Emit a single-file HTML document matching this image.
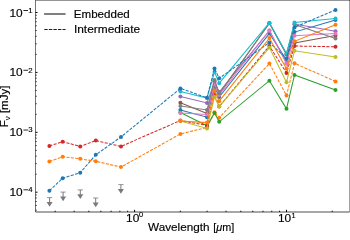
<!DOCTYPE html>
<html><head><meta charset="utf-8"><style>
html,body{margin:0;padding:0;background:#fff;width:350px;height:234px;overflow:hidden}
svg{display:block;will-change:transform}
</style></head><body>
<svg width="350" height="234" viewBox="0 0 350 234">
<rect width="350" height="234" fill="#fff"/>
<svg x="0" y="0" width="350" height="234"><clipPath id="ax"><rect x="35.50" y="0.50" width="314.00" height="211.10"/></clipPath>
<g clip-path="url(#ax)"><polyline points="180.40,110.00 207.00,117.20 214.50,86.50 219.20,97.00 269.40,33.50 286.50,60.00 294.50,32.10 335.50,20.00" fill="none" stroke="#1f77b4" stroke-width="1.05"/><circle cx="180.40" cy="110.00" r="2.00" fill="#1f77b4"/><circle cx="207.00" cy="117.20" r="2.00" fill="#1f77b4"/><circle cx="214.50" cy="86.50" r="2.00" fill="#1f77b4"/><circle cx="219.20" cy="97.00" r="2.00" fill="#1f77b4"/><circle cx="269.40" cy="33.50" r="2.00" fill="#1f77b4"/><circle cx="286.50" cy="60.00" r="2.00" fill="#1f77b4"/><circle cx="294.50" cy="32.10" r="2.00" fill="#1f77b4"/><circle cx="335.50" cy="20.00" r="2.00" fill="#1f77b4"/><polyline points="49.40,161.50 62.70,156.80 80.20,158.80 95.80,161.30 121.00,167.10 180.40,133.90 207.00,127.50 214.50,112.30 219.20,117.70 269.40,63.50 286.50,95.50 294.50,63.30 335.50,81.40" fill="none" stroke="#ff7f0e" stroke-width="1.05" stroke-dasharray="3.1 1.35"/><circle cx="49.40" cy="161.50" r="2.00" fill="#ff7f0e"/><circle cx="62.70" cy="156.80" r="2.00" fill="#ff7f0e"/><circle cx="80.20" cy="158.80" r="2.00" fill="#ff7f0e"/><circle cx="95.80" cy="161.30" r="2.00" fill="#ff7f0e"/><circle cx="121.00" cy="167.10" r="2.00" fill="#ff7f0e"/><circle cx="180.40" cy="133.90" r="2.00" fill="#ff7f0e"/><circle cx="207.00" cy="127.50" r="2.00" fill="#ff7f0e"/><circle cx="214.50" cy="112.30" r="2.00" fill="#ff7f0e"/><circle cx="219.20" cy="117.70" r="2.00" fill="#ff7f0e"/><circle cx="269.40" cy="63.50" r="2.00" fill="#ff7f0e"/><circle cx="286.50" cy="95.50" r="2.00" fill="#ff7f0e"/><circle cx="294.50" cy="63.30" r="2.00" fill="#ff7f0e"/><circle cx="335.50" cy="81.40" r="2.00" fill="#ff7f0e"/><polyline points="180.40,112.50 207.00,125.80 214.50,112.90 219.20,121.80 269.40,80.70 286.50,108.80 294.50,74.90 335.50,90.10" fill="none" stroke="#2ca02c" stroke-width="1.05"/><circle cx="180.40" cy="112.50" r="2.00" fill="#2ca02c"/><circle cx="207.00" cy="125.80" r="2.00" fill="#2ca02c"/><circle cx="214.50" cy="112.90" r="2.00" fill="#2ca02c"/><circle cx="219.20" cy="121.80" r="2.00" fill="#2ca02c"/><circle cx="269.40" cy="80.70" r="2.00" fill="#2ca02c"/><circle cx="286.50" cy="108.80" r="2.00" fill="#2ca02c"/><circle cx="294.50" cy="74.90" r="2.00" fill="#2ca02c"/><circle cx="335.50" cy="90.10" r="2.00" fill="#2ca02c"/><polyline points="49.40,145.90 62.70,141.70 80.20,146.40 95.80,140.60 121.00,146.40 180.40,120.50 207.00,125.40 214.50,94.00 219.20,106.60 269.40,46.00 286.50,72.90 294.50,46.00 335.50,46.80" fill="none" stroke="#d62728" stroke-width="1.05" stroke-dasharray="3.1 1.35"/><circle cx="49.40" cy="145.90" r="2.00" fill="#d62728"/><circle cx="62.70" cy="141.70" r="2.00" fill="#d62728"/><circle cx="80.20" cy="146.40" r="2.00" fill="#d62728"/><circle cx="95.80" cy="140.60" r="2.00" fill="#d62728"/><circle cx="121.00" cy="146.40" r="2.00" fill="#d62728"/><circle cx="180.40" cy="120.50" r="2.00" fill="#d62728"/><circle cx="207.00" cy="125.40" r="2.00" fill="#d62728"/><circle cx="214.50" cy="94.00" r="2.00" fill="#d62728"/><circle cx="219.20" cy="106.60" r="2.00" fill="#d62728"/><circle cx="269.40" cy="46.00" r="2.00" fill="#d62728"/><circle cx="286.50" cy="72.90" r="2.00" fill="#d62728"/><circle cx="294.50" cy="46.00" r="2.00" fill="#d62728"/><circle cx="335.50" cy="46.80" r="2.00" fill="#d62728"/><polyline points="180.40,96.60 207.00,102.90 214.50,82.00 219.20,92.00 269.40,30.60 286.50,63.00 294.50,24.00 335.50,31.20" fill="none" stroke="#9467bd" stroke-width="1.05"/><circle cx="180.40" cy="96.60" r="2.00" fill="#9467bd"/><circle cx="207.00" cy="102.90" r="2.00" fill="#9467bd"/><circle cx="214.50" cy="82.00" r="2.00" fill="#9467bd"/><circle cx="219.20" cy="92.00" r="2.00" fill="#9467bd"/><circle cx="269.40" cy="30.60" r="2.00" fill="#9467bd"/><circle cx="286.50" cy="63.00" r="2.00" fill="#9467bd"/><circle cx="294.50" cy="24.00" r="2.00" fill="#9467bd"/><circle cx="335.50" cy="31.20" r="2.00" fill="#9467bd"/><polyline points="180.40,102.70 207.00,113.50 214.50,81.00 219.20,94.00 269.40,23.20 286.50,54.50 294.50,43.00 335.50,35.50" fill="none" stroke="#8c564b" stroke-width="1.05"/><circle cx="180.40" cy="102.70" r="2.00" fill="#8c564b"/><circle cx="207.00" cy="113.50" r="2.00" fill="#8c564b"/><circle cx="214.50" cy="81.00" r="2.00" fill="#8c564b"/><circle cx="219.20" cy="94.00" r="2.00" fill="#8c564b"/><circle cx="269.40" cy="23.20" r="2.00" fill="#8c564b"/><circle cx="286.50" cy="54.50" r="2.00" fill="#8c564b"/><circle cx="294.50" cy="43.00" r="2.00" fill="#8c564b"/><circle cx="335.50" cy="35.50" r="2.00" fill="#8c564b"/><polyline points="180.40,113.00 207.00,114.50 214.50,84.00 219.20,95.00 269.40,30.40 286.50,63.70 294.50,35.80 335.50,33.50" fill="none" stroke="#e377c2" stroke-width="1.05"/><circle cx="180.40" cy="113.00" r="2.00" fill="#e377c2"/><circle cx="207.00" cy="114.50" r="2.00" fill="#e377c2"/><circle cx="214.50" cy="84.00" r="2.00" fill="#e377c2"/><circle cx="219.20" cy="95.00" r="2.00" fill="#e377c2"/><circle cx="269.40" cy="30.40" r="2.00" fill="#e377c2"/><circle cx="286.50" cy="63.70" r="2.00" fill="#e377c2"/><circle cx="294.50" cy="35.80" r="2.00" fill="#e377c2"/><circle cx="335.50" cy="33.50" r="2.00" fill="#e377c2"/><polyline points="180.40,106.10 207.00,110.00 214.50,80.00 219.20,93.50 269.40,23.00 286.50,54.00 294.50,24.50 335.50,38.60" fill="none" stroke="#7f7f7f" stroke-width="1.05"/><circle cx="180.40" cy="106.10" r="2.00" fill="#7f7f7f"/><circle cx="207.00" cy="110.00" r="2.00" fill="#7f7f7f"/><circle cx="214.50" cy="80.00" r="2.00" fill="#7f7f7f"/><circle cx="219.20" cy="93.50" r="2.00" fill="#7f7f7f"/><circle cx="269.40" cy="23.00" r="2.00" fill="#7f7f7f"/><circle cx="286.50" cy="54.00" r="2.00" fill="#7f7f7f"/><circle cx="294.50" cy="24.50" r="2.00" fill="#7f7f7f"/><circle cx="335.50" cy="38.60" r="2.00" fill="#7f7f7f"/><polyline points="180.40,120.90 207.00,128.40 214.50,97.00 219.20,106.60 269.40,47.60 286.50,82.20 294.50,50.80 335.50,56.90" fill="none" stroke="#bcbd22" stroke-width="1.05"/><circle cx="180.40" cy="120.90" r="2.00" fill="#bcbd22"/><circle cx="207.00" cy="128.40" r="2.00" fill="#bcbd22"/><circle cx="214.50" cy="97.00" r="2.00" fill="#bcbd22"/><circle cx="219.20" cy="106.60" r="2.00" fill="#bcbd22"/><circle cx="269.40" cy="47.60" r="2.00" fill="#bcbd22"/><circle cx="286.50" cy="82.20" r="2.00" fill="#bcbd22"/><circle cx="294.50" cy="50.80" r="2.00" fill="#bcbd22"/><circle cx="335.50" cy="56.90" r="2.00" fill="#bcbd22"/><polyline points="180.40,91.60 207.00,98.00 214.50,72.00 219.20,83.20 269.40,22.70 286.50,53.40 294.50,22.50 335.50,18.50" fill="none" stroke="#17becf" stroke-width="1.05"/><circle cx="180.40" cy="91.60" r="2.00" fill="#17becf"/><circle cx="207.00" cy="98.00" r="2.00" fill="#17becf"/><circle cx="214.50" cy="72.00" r="2.00" fill="#17becf"/><circle cx="219.20" cy="83.20" r="2.00" fill="#17becf"/><circle cx="269.40" cy="22.70" r="2.00" fill="#17becf"/><circle cx="286.50" cy="53.40" r="2.00" fill="#17becf"/><circle cx="294.50" cy="22.50" r="2.00" fill="#17becf"/><circle cx="335.50" cy="18.50" r="2.00" fill="#17becf"/><polyline points="49.40,190.70 62.70,178.20 80.20,172.70 95.80,154.80 121.00,136.90 180.40,88.40 207.00,97.70 214.50,68.50 219.20,78.30 269.40,42.50 286.50,58.50 294.50,27.40 335.50,9.90" fill="none" stroke="#1f77b4" stroke-width="1.05" stroke-dasharray="3.1 1.35"/><circle cx="49.40" cy="190.70" r="2.00" fill="#1f77b4"/><circle cx="62.70" cy="178.20" r="2.00" fill="#1f77b4"/><circle cx="80.20" cy="172.70" r="2.00" fill="#1f77b4"/><circle cx="95.80" cy="154.80" r="2.00" fill="#1f77b4"/><circle cx="121.00" cy="136.90" r="2.00" fill="#1f77b4"/><circle cx="180.40" cy="88.40" r="2.00" fill="#1f77b4"/><circle cx="207.00" cy="97.70" r="2.00" fill="#1f77b4"/><circle cx="214.50" cy="68.50" r="2.00" fill="#1f77b4"/><circle cx="219.20" cy="78.30" r="2.00" fill="#1f77b4"/><circle cx="269.40" cy="42.50" r="2.00" fill="#1f77b4"/><circle cx="286.50" cy="58.50" r="2.00" fill="#1f77b4"/><circle cx="294.50" cy="27.40" r="2.00" fill="#1f77b4"/><circle cx="335.50" cy="9.90" r="2.00" fill="#1f77b4"/><polyline points="180.40,120.90 207.00,122.60 214.50,90.50 219.20,101.20 269.40,38.10 286.50,68.80 294.50,41.30 335.50,24.70" fill="none" stroke="#ff7f0e" stroke-width="1.05"/><circle cx="180.40" cy="120.90" r="2.00" fill="#ff7f0e"/><circle cx="207.00" cy="122.60" r="2.00" fill="#ff7f0e"/><circle cx="214.50" cy="90.50" r="2.00" fill="#ff7f0e"/><circle cx="219.20" cy="101.20" r="2.00" fill="#ff7f0e"/><circle cx="269.40" cy="38.10" r="2.00" fill="#ff7f0e"/><circle cx="286.50" cy="68.80" r="2.00" fill="#ff7f0e"/><circle cx="294.50" cy="41.30" r="2.00" fill="#ff7f0e"/><circle cx="335.50" cy="24.70" r="2.00" fill="#ff7f0e"/><g fill="#7a7a7a" stroke="#7a7a7a"><line x1="47.00" y1="197.60" x2="52.20" y2="197.60" stroke-width="0.8"/><line x1="49.60" y1="197.60" x2="49.60" y2="202.60" stroke-width="1.0"/><path d="M46.60 202.00L52.60 202.00L49.60 206.80Z" stroke="none"/></g><g fill="#7a7a7a" stroke="#7a7a7a"><line x1="60.50" y1="192.10" x2="65.70" y2="192.10" stroke-width="0.8"/><line x1="63.10" y1="192.10" x2="63.10" y2="197.10" stroke-width="1.0"/><path d="M60.10 196.50L66.10 196.50L63.10 201.30Z" stroke="none"/></g><g fill="#7a7a7a" stroke="#7a7a7a"><line x1="77.70" y1="189.90" x2="82.90" y2="189.90" stroke-width="0.8"/><line x1="80.30" y1="189.90" x2="80.30" y2="194.90" stroke-width="1.0"/><path d="M77.30 194.30L83.30 194.30L80.30 199.10Z" stroke="none"/></g><g fill="#7a7a7a" stroke="#7a7a7a"><line x1="93.10" y1="198.00" x2="98.30" y2="198.00" stroke-width="0.8"/><line x1="95.70" y1="198.00" x2="95.70" y2="203.00" stroke-width="1.0"/><path d="M92.70 202.40L98.70 202.40L95.70 207.20Z" stroke="none"/></g><g fill="#7a7a7a" stroke="#7a7a7a"><line x1="118.30" y1="184.60" x2="123.50" y2="184.60" stroke-width="0.8"/><line x1="120.90" y1="184.60" x2="120.90" y2="189.60" stroke-width="1.0"/><path d="M117.90 189.00L123.90 189.00L120.90 193.80Z" stroke="none"/></g></g></svg>
<line x1="35.50" y1="212.00" x2="35.50" y2="0.00" stroke="#000" stroke-width="0.55"/><line x1="35.50" y1="0.50" x2="350.00" y2="0.50" stroke="#000" stroke-width="0.42"/><line x1="349.50" y1="0.00" x2="349.50" y2="212.00" stroke="#000" stroke-width="0.38"/><line x1="35.50" y1="212.00" x2="349.50" y2="212.00" stroke="#000" stroke-width="0.7"/><line x1="134.60" y1="212.00" x2="134.60" y2="209.80" stroke="#000" stroke-width="1.00"/><line x1="286.50" y1="212.00" x2="286.50" y2="209.80" stroke="#000" stroke-width="1.00"/><line x1="55.17" y1="212.00" x2="55.17" y2="210.70" stroke="#000" stroke-width="0.90"/><line x1="74.15" y1="212.00" x2="74.15" y2="210.70" stroke="#000" stroke-width="0.90"/><line x1="88.87" y1="212.00" x2="88.87" y2="210.70" stroke="#000" stroke-width="0.90"/><line x1="100.90" y1="212.00" x2="100.90" y2="210.70" stroke="#000" stroke-width="0.90"/><line x1="111.07" y1="212.00" x2="111.07" y2="210.70" stroke="#000" stroke-width="0.90"/><line x1="119.88" y1="212.00" x2="119.88" y2="210.70" stroke="#000" stroke-width="0.90"/><line x1="127.65" y1="212.00" x2="127.65" y2="210.70" stroke="#000" stroke-width="0.90"/><line x1="180.33" y1="212.00" x2="180.33" y2="210.70" stroke="#000" stroke-width="0.90"/><line x1="207.07" y1="212.00" x2="207.07" y2="210.70" stroke="#000" stroke-width="0.90"/><line x1="226.05" y1="212.00" x2="226.05" y2="210.70" stroke="#000" stroke-width="0.90"/><line x1="240.77" y1="212.00" x2="240.77" y2="210.70" stroke="#000" stroke-width="0.90"/><line x1="252.80" y1="212.00" x2="252.80" y2="210.70" stroke="#000" stroke-width="0.90"/><line x1="262.97" y1="212.00" x2="262.97" y2="210.70" stroke="#000" stroke-width="0.90"/><line x1="271.78" y1="212.00" x2="271.78" y2="210.70" stroke="#000" stroke-width="0.90"/><line x1="279.55" y1="212.00" x2="279.55" y2="210.70" stroke="#000" stroke-width="0.90"/><line x1="332.23" y1="212.00" x2="332.23" y2="210.70" stroke="#000" stroke-width="0.90"/><line x1="35.50" y1="12.50" x2="37.50" y2="12.50" stroke="#000" stroke-width="1.00"/><line x1="35.50" y1="72.40" x2="37.50" y2="72.40" stroke="#000" stroke-width="1.00"/><line x1="35.50" y1="132.30" x2="37.50" y2="132.30" stroke="#000" stroke-width="1.00"/><line x1="35.50" y1="192.20" x2="37.50" y2="192.20" stroke="#000" stroke-width="1.00"/><line x1="35.50" y1="210.23" x2="36.70" y2="210.23" stroke="#000" stroke-width="0.85"/><line x1="35.50" y1="205.49" x2="36.70" y2="205.49" stroke="#000" stroke-width="0.85"/><line x1="35.50" y1="201.48" x2="36.70" y2="201.48" stroke="#000" stroke-width="0.85"/><line x1="35.50" y1="198.00" x2="36.70" y2="198.00" stroke="#000" stroke-width="0.85"/><line x1="35.50" y1="194.94" x2="36.70" y2="194.94" stroke="#000" stroke-width="0.85"/><line x1="35.50" y1="174.17" x2="36.70" y2="174.17" stroke="#000" stroke-width="0.85"/><line x1="35.50" y1="163.62" x2="36.70" y2="163.62" stroke="#000" stroke-width="0.85"/><line x1="35.50" y1="156.14" x2="36.70" y2="156.14" stroke="#000" stroke-width="0.85"/><line x1="35.50" y1="150.33" x2="36.70" y2="150.33" stroke="#000" stroke-width="0.85"/><line x1="35.50" y1="145.59" x2="36.70" y2="145.59" stroke="#000" stroke-width="0.85"/><line x1="35.50" y1="141.58" x2="36.70" y2="141.58" stroke="#000" stroke-width="0.85"/><line x1="35.50" y1="138.10" x2="36.70" y2="138.10" stroke="#000" stroke-width="0.85"/><line x1="35.50" y1="135.04" x2="36.70" y2="135.04" stroke="#000" stroke-width="0.85"/><line x1="35.50" y1="114.27" x2="36.70" y2="114.27" stroke="#000" stroke-width="0.85"/><line x1="35.50" y1="103.72" x2="36.70" y2="103.72" stroke="#000" stroke-width="0.85"/><line x1="35.50" y1="96.24" x2="36.70" y2="96.24" stroke="#000" stroke-width="0.85"/><line x1="35.50" y1="90.43" x2="36.70" y2="90.43" stroke="#000" stroke-width="0.85"/><line x1="35.50" y1="85.69" x2="36.70" y2="85.69" stroke="#000" stroke-width="0.85"/><line x1="35.50" y1="81.68" x2="36.70" y2="81.68" stroke="#000" stroke-width="0.85"/><line x1="35.50" y1="78.20" x2="36.70" y2="78.20" stroke="#000" stroke-width="0.85"/><line x1="35.50" y1="75.14" x2="36.70" y2="75.14" stroke="#000" stroke-width="0.85"/><line x1="35.50" y1="54.37" x2="36.70" y2="54.37" stroke="#000" stroke-width="0.85"/><line x1="35.50" y1="43.82" x2="36.70" y2="43.82" stroke="#000" stroke-width="0.85"/><line x1="35.50" y1="36.34" x2="36.70" y2="36.34" stroke="#000" stroke-width="0.85"/><line x1="35.50" y1="30.53" x2="36.70" y2="30.53" stroke="#000" stroke-width="0.85"/><line x1="35.50" y1="25.79" x2="36.70" y2="25.79" stroke="#000" stroke-width="0.85"/><line x1="35.50" y1="21.78" x2="36.70" y2="21.78" stroke="#000" stroke-width="0.85"/><line x1="35.50" y1="18.30" x2="36.70" y2="18.30" stroke="#000" stroke-width="0.85"/><line x1="35.50" y1="15.24" x2="36.70" y2="15.24" stroke="#000" stroke-width="0.85"/><text transform="translate(9.50,16.70) scale(1.100,1)" font-family="'Liberation Sans', sans-serif" stroke="#000" stroke-width="0.15" font-size="10.80" fill="#000">10</text><rect x="23.4" y="10.10" width="4.6" height="0.85" fill="#000"/><text x="32.6" y="12.80" font-family="'Liberation Sans', sans-serif" stroke="#000" stroke-width="0.15" font-size="7.8" text-anchor="end" fill="#000">1</text><text transform="translate(9.50,76.40) scale(1.100,1)" font-family="'Liberation Sans', sans-serif" stroke="#000" stroke-width="0.15" font-size="10.80" fill="#000">10</text><rect x="23.4" y="69.80" width="4.6" height="0.85" fill="#000"/><text x="32.6" y="72.50" font-family="'Liberation Sans', sans-serif" stroke="#000" stroke-width="0.15" font-size="7.8" text-anchor="end" fill="#000">2</text><text transform="translate(9.50,136.20) scale(1.100,1)" font-family="'Liberation Sans', sans-serif" stroke="#000" stroke-width="0.15" font-size="10.80" fill="#000">10</text><rect x="23.4" y="129.60" width="4.6" height="0.85" fill="#000"/><text x="32.6" y="132.30" font-family="'Liberation Sans', sans-serif" stroke="#000" stroke-width="0.15" font-size="7.8" text-anchor="end" fill="#000">3</text><text transform="translate(9.50,196.00) scale(1.100,1)" font-family="'Liberation Sans', sans-serif" stroke="#000" stroke-width="0.15" font-size="10.80" fill="#000">10</text><rect x="23.4" y="189.40" width="4.6" height="0.85" fill="#000"/><text x="32.6" y="192.10" font-family="'Liberation Sans', sans-serif" stroke="#000" stroke-width="0.15" font-size="7.8" text-anchor="end" fill="#000">4</text><text transform="translate(126.10,221.80) scale(1.100,1)" font-family="'Liberation Sans', sans-serif" stroke="#000" stroke-width="0.15" font-size="10.80" fill="#000">10</text><text x="139.00" y="217.30" font-family="'Liberation Sans', sans-serif" stroke="#000" stroke-width="0.15" font-size="7.4" fill="#000">0</text><text transform="translate(278.00,221.80) scale(1.100,1)" font-family="'Liberation Sans', sans-serif" stroke="#000" stroke-width="0.15" font-size="10.80" fill="#000">10</text><text x="291.40" y="217.90" font-family="'Liberation Sans', sans-serif" stroke="#000" stroke-width="0.15" font-size="7.4" fill="#000">1</text><text x="148.0" y="230.6" font-family="'Liberation Sans', sans-serif" stroke="#000" stroke-width="0.15" font-size="10.6" fill="#000" textLength="61.5" lengthAdjust="spacingAndGlyphs">Wavelength</text><text x="213.3" y="230.6" font-family="'Liberation Sans', sans-serif" stroke="#000" stroke-width="0.15" font-size="10.6" fill="#000" textLength="21" lengthAdjust="spacingAndGlyphs">[<tspan font-style="italic">&#956;</tspan>m]</text><text transform="translate(8.3,127.3) rotate(-90) scale(1.085,1)" font-family="'Liberation Sans', sans-serif" stroke="#000" stroke-width="0.15" font-size="10.6" fill="#000">F<tspan font-size="7.4" dy="2">&#957;</tspan><tspan dy="-2"> [mJy]</tspan></text><line x1="44.1" y1="14" x2="65.6" y2="14" stroke="#000" stroke-width="1.0"/><line x1="44.3" y1="29.5" x2="65.6" y2="29.5" stroke="#111" stroke-width="0.95" stroke-dasharray="3.4 1.15"/><text x="73.8" y="17.8" font-family="'Liberation Sans', sans-serif" stroke="#000" stroke-width="0.15" font-size="10.6" fill="#000" textLength="56" lengthAdjust="spacingAndGlyphs">Embedded</text><text x="73.9" y="32.6" font-family="'Liberation Sans', sans-serif" stroke="#000" stroke-width="0.15" font-size="10.6" fill="#000" textLength="66.2" lengthAdjust="spacingAndGlyphs">Intermediate</text>
</svg></body></html>
